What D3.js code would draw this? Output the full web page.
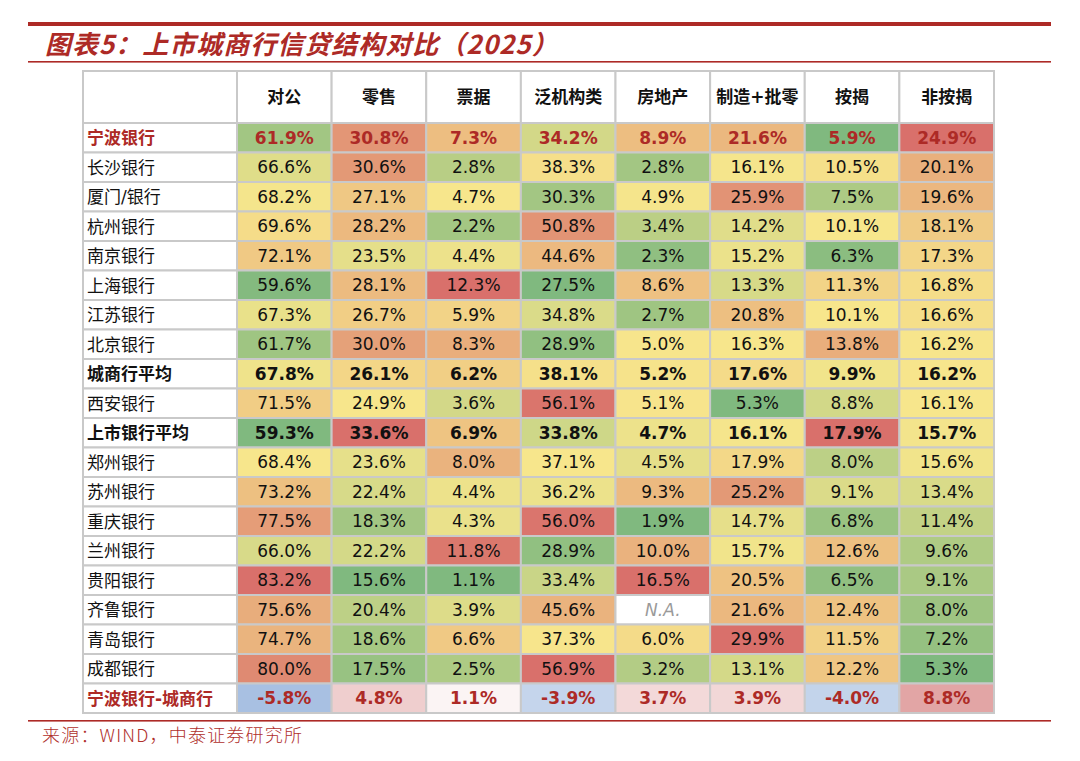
<!DOCTYPE html>
<html>
<head>
<meta charset="utf-8">
<script src="https://cdn.jsdelivr.net/npm/d3@7"></script>
<style>
  body { margin: 0; background: #fff; }
  svg { display: block; }
</style>
</head>
<body>
<svg id="chart" width="1080" height="761"></svg>
<script>
// columns and banks
var columns = ["对公", "零售", "票据", "泛机构类", "房地产", "制造+批零", "按揭", "非按揭"];
var banks = ["宁波银行", "长沙银行", "厦门/银行", "杭州银行", "南京银行", "上海银行", "江苏银行", "北京银行",
             "城商行平均", "西安银行", "上市银行平均", "郑州银行", "苏州银行", "重庆银行", "兰州银行",
             "贵阳银行", "齐鲁银行", "青岛银行", "成都银行"];
var diffLabel = "宁波银行-城商行";

// one array per column (same order as banks), null = N.A.
var corp        = [61.9, 66.6, 68.2, 69.6, 72.1, 59.6, 67.3, 61.7, 67.8, 71.5, 59.3, 68.4, 73.2, 77.5, 66.0, 83.2, 75.6, 74.7, 80.0];
var retail      = [30.8, 30.6, 27.1, 28.2, 23.5, 28.1, 26.7, 30.0, 26.1, 24.9, 33.6, 23.6, 22.4, 18.3, 22.2, 15.6, 20.4, 18.6, 17.5];
var bills       = [7.3, 2.8, 4.7, 2.2, 4.4, 12.3, 5.9, 8.3, 6.2, 3.6, 6.9, 8.0, 4.4, 4.3, 11.8, 1.1, 3.9, 6.6, 2.5];
var interbank   = [34.2, 38.3, 30.3, 50.8, 44.6, 27.5, 34.8, 28.9, 38.1, 56.1, 33.8, 37.1, 36.2, 56.0, 28.9, 33.4, 45.6, 37.3, 56.9];
var realEstate  = [8.9, 2.8, 4.9, 3.4, 2.3, 8.6, 2.7, 5.0, 5.2, 5.1, 4.7, 4.5, 9.3, 1.9, 10.0, 16.5, null, 6.0, 3.2];
var mfgTrade    = [21.6, 16.1, 25.9, 14.2, 15.2, 13.3, 20.8, 16.3, 17.6, 5.3, 16.1, 17.9, 25.2, 14.7, 15.7, 20.5, 21.6, 29.9, 13.1];
var mortgage    = [5.9, 10.5, 7.5, 10.1, 6.3, 11.3, 10.1, 13.8, 9.9, 8.8, 17.9, 8.0, 9.1, 6.8, 12.6, 6.5, 12.4, 11.5, 12.2];
var nonMortgage = [24.9, 20.1, 19.6, 18.1, 17.3, 16.8, 16.6, 16.2, 16.2, 16.1, 15.7, 15.6, 13.4, 11.4, 9.6, 9.1, 8.0, 7.2, 5.3];
var diffRow     = [-5.8, 4.8, 1.1, -3.9, 3.7, 3.9, -4.0, 8.8];

var series = [corp, retail, bills, interbank, realEstate, mfgTrade, mortgage, nonMortgage];

var redRows = ["宁波银行"];
var boldRows = ["城商行平均", "上市银行平均"];

var svg = d3.select("#chart");
var darkRed = "#ad2a26";
var gridColor = "#c9c9c9";
var fontFam = "'DejaVu Sans', 'Noto Sans CJK SC', sans-serif";

// title bars
svg.append("rect").attr("x", 28).attr("y", 22).attr("width", 1023).attr("height", 4).attr("fill", darkRed);
svg.append("rect").attr("x", 28).attr("y", 61).attr("width", 1023).attr("height", 1.6).attr("fill", darkRed);
svg.append("text")
  .attr("x", 45).attr("y", 54)
  .attr("fill", darkRed)
  .style("font-family", "'Noto Sans CJK SC', sans-serif")
  .style("font-weight", "bold")
  .style("font-style", "italic")
  .style("font-size", "26px")
  .style("letter-spacing", "1px")
  .text("图表5：上市城商行信贷结构对比（2025）");

// table geometry
var tLeft = 83, labelRight = 237, tRight = 994;
var tTop = 71, headerBottom = 123, tBottom = 713;

var allRows = banks.concat([diffLabel]);

var x = d3.scaleBand().domain(columns).range([labelRight, tRight]);
var y = d3.scaleBand().domain(allRows).range([headerBottom, tBottom]);

// color scales per column: low=green, median=yellow, high=red
var scales = series.map(function(vals){
  var v = vals.filter(function(d){ return d != null; });
  return d3.scaleLinear()
    .domain([d3.min(v), d3.median(v), d3.max(v)])
    .range(["#80b97f", "#f7e68c", "#d9706b"]);
});
var diffScale = d3.scaleLinear()
  .domain([d3.min(diffRow), 0, d3.max(diffRow)])
  .range(["#a8c0e2", "#ffffff", "#e2a5a5"]);

var g = svg.append("g");

// header row
g.append("rect")
  .attr("x", tLeft).attr("y", tTop)
  .attr("width", labelRight - tLeft).attr("height", headerBottom - tTop)
  .attr("fill", "#fff").attr("stroke", gridColor).attr("stroke-width", 2);
g.selectAll(".hcell")
  .data(columns)
  .enter().append("rect")
    .attr("x", function(d){ return x(d); })
    .attr("y", tTop)
    .attr("width", x.bandwidth())
    .attr("height", headerBottom - tTop)
    .attr("fill", "#fff").attr("stroke", gridColor).attr("stroke-width", 2);
g.selectAll(".htext")
  .data(columns)
  .enter().append("text")
    .attr("x", function(d){ return x(d) + x.bandwidth()/2; })
    .attr("y", (tTop + headerBottom)/2)
    .attr("dy", "0.36em")
    .attr("text-anchor", "middle")
    .style("font-family", fontFam)
    .style("font-weight", "bold")
    .style("font-size", "17px")
    .attr("fill", "#111")
    .text(function(d){ return d; });

// build cells
var cells = [];
banks.forEach(function(b, i){
  columns.forEach(function(c, j){
    var v = series[j][i];
    cells.push({row: b, col: c, value: v, fill: v == null ? "#fff" : scales[j](v)});
  });
});
columns.forEach(function(c, j){
  cells.push({row: diffLabel, col: c, value: diffRow[j], fill: diffScale(diffRow[j])});
});

function rowColor(r){
  if (r == diffLabel || redRows.indexOf(r) >= 0) return darkRed;
  return "#111";
}
function rowWeight(r){
  if (r == diffLabel || redRows.indexOf(r) >= 0 || boldRows.indexOf(r) >= 0) return "bold";
  return "normal";
}

// row label cells
g.selectAll(".lcell")
  .data(allRows)
  .enter().append("rect")
    .attr("x", tLeft)
    .attr("y", function(d){ return y(d); })
    .attr("width", labelRight - tLeft)
    .attr("height", y.bandwidth())
    .attr("fill", "#fff").attr("stroke", gridColor).attr("stroke-width", 2);
g.selectAll(".ltext")
  .data(allRows)
  .enter().append("text")
    .attr("x", tLeft + 4)
    .attr("y", function(d){ return y(d) + y.bandwidth()/2; })
    .attr("dy", "0.38em")
    .style("font-family", fontFam)
    .style("font-size", "17px")
    .style("font-weight", rowWeight)
    .attr("fill", rowColor)
    .text(function(d){ return d; });

// value cells
g.selectAll(".vcell")
  .data(cells)
  .enter().append("rect")
    .attr("x", function(d){ return x(d.col); })
    .attr("y", function(d){ return y(d.row); })
    .attr("width", x.bandwidth())
    .attr("height", y.bandwidth())
    .attr("fill", function(d){ return d.fill; })
    .attr("stroke", gridColor).attr("stroke-width", 2);
g.selectAll(".vtext")
  .data(cells)
  .enter().append("text")
    .attr("x", function(d){ return x(d.col) + x.bandwidth()/2; })
    .attr("y", function(d){ return y(d.row) + y.bandwidth()/2; })
    .attr("dy", "0.36em")
    .attr("text-anchor", "middle")
    .style("font-family", fontFam)
    .style("font-size", "17px")
    .style("font-weight", function(d){ return rowWeight(d.row); })
    .style("font-style", function(d){ return d.value == null ? "italic" : "normal"; })
    .attr("fill", function(d){ return d.value == null ? "#9a9a9a" : rowColor(d.row); })
    .text(function(d){ return d.value == null ? "N.A." : d.value.toFixed(1) + "%"; });

// source line
svg.append("rect").attr("x", 28).attr("y", 720).attr("width", 1023).attr("height", 1.6).attr("fill", darkRed);
svg.append("text")
  .attr("x", 42).attr("y", 742)
  .attr("fill", "#b0302c")
  .style("font-family", "'Noto Sans CJK SC', sans-serif")
  .style("font-size", "18px")
  .style("font-weight", "300")
  .style("letter-spacing", "1.2px")
  .text("来源：WIND，中泰证券研究所");
</script>
</body>
</html>
